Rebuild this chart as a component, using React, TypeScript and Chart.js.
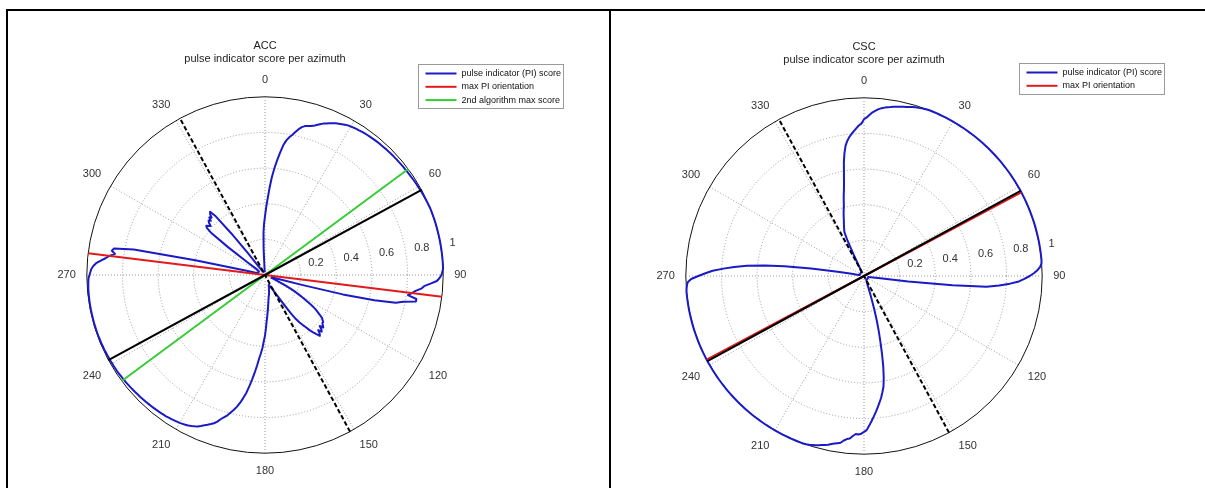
import React, { useEffect, useRef } from 'react';
import { Chart, registerables } from 'chart.js';

Chart.register(...registerables);

const FONT = '"Liberation Sans", Arial, Helvetica, sans-serif';

// ---- axes -------------------------------------------------------------
const AZIMUTH_STEP = 0.5; // resolution of the azimuth category grid (deg)
const AZIMUTH_TICKS = [0, 30, 60, 90, 120, 150, 180, 210, 240, 270, 300, 330];
const RADIAL_TICKS = [0.2, 0.4, 0.6, 0.8, 1];
const SUBTITLE = 'pulse indicator score per azimuth';
const SERIES_LABELS = ['pulse indicator (PI) score', 'max PI orientation', '2nd algorithm max score'];

// ---- ACC : PI score per azimuth (1 deg steps, 0..359) ------------------
const ACC_PI_SCORE = [
  0.33, 0.38, 0.43, 0.49, 0.55, 0.6, 0.645, 0.69, 0.735, 0.765, 0.785, 0.8, 0.82, 0.84, 0.855, 0.865, 0.87, 0.875, 0.88, 0.89, 0.9, 0.91, 0.917, 0.925, 0.932, 0.94, 0.945, 0.95, 0.955, 0.96,
  0.962, 0.965, 0.967, 0.968, 0.97, 0.972, 0.973, 0.974, 0.975, 0.976, 0.977, 0.978, 0.978, 0.979, 0.98, 0.98, 0.981, 0.982, 0.982, 0.983, 0.983, 0.984, 0.985, 0.985, 0.986, 0.987, 0.988, 0.989, 0.99, 0.991,
  0.992, 0.993, 0.994, 0.995, 0.996, 0.997, 0.998, 0.999, 1, 1, 1, 1, 1, 1, 1, 1, 1, 1, 1, 1, 1, 1, 1, 1, 1, 1, 1, 1, 1, 0.995,
  0.99, 0.98, 0.965, 0.93, 0.895, 0.88, 0.85, 0.83, 0.81, 0.86, 0.86, 0.79, 0.75, 0.63, 0.45, 0.22, 0.09, 0.05, 0.045, 0.04, 0.04, 0.04, 0.04, 0.04, 0.05, 0.07, 0.09, 0.12, 0.16, 0.19,
  0.22, 0.25, 0.28, 0.31, 0.34, 0.36, 0.38, 0.4, 0.41, 0.42, 0.42, 0.43, 0.44, 0.42, 0.44, 0.45, 0.43, 0.45, 0.46, 0.44, 0.42, 0.4, 0.37, 0.35, 0.33, 0.3, 0.26, 0.21, 0.17, 0.14,
  0.12, 0.11, 0.09, 0.085, 0.08, 0.075, 0.07, 0.065, 0.06, 0.06, 0.06, 0.065, 0.07, 0.075, 0.08, 0.085, 0.095, 0.1, 0.11, 0.115, 0.12, 0.13, 0.14, 0.155, 0.17, 0.19, 0.21, 0.235, 0.26, 0.3,
  0.34, 0.37, 0.41, 0.44, 0.47, 0.51, 0.55, 0.59, 0.63, 0.67, 0.7, 0.73, 0.755, 0.776, 0.795, 0.815, 0.83, 0.845, 0.865, 0.88, 0.89, 0.9, 0.91, 0.92, 0.93, 0.937, 0.943, 0.948, 0.952, 0.955,
  0.958, 0.96, 0.962, 0.964, 0.966, 0.968, 0.969, 0.97, 0.971, 0.972, 0.973, 0.974, 0.975, 0.976, 0.977, 0.978, 0.979, 0.98, 0.981, 0.982, 0.983, 0.984, 0.985, 0.986, 0.987, 0.988, 0.989, 0.99, 0.99, 0.991,
  0.991, 0.992, 0.992, 0.993, 0.993, 0.994, 0.994, 0.995, 0.995, 0.995, 0.996, 0.996, 0.996, 0.996, 0.996, 0.996, 0.996, 0.996, 0.996, 0.996, 0.996, 0.996, 0.996, 0.995, 0.995, 0.995, 0.994, 0.993, 0.992, 0.99,
  0.985, 0.98, 0.975, 0.965, 0.95, 0.925, 0.9, 0.88, 0.85, 0.87, 0.86, 0.75, 0.4, 0.12, 0.06, 0.05, 0.045, 0.04, 0.04, 0.04, 0.04, 0.04, 0.04, 0.04, 0.04, 0.04, 0.04, 0.04, 0.04, 0.04,
  0.04, 0.04, 0.04, 0.045, 0.05, 0.06, 0.12, 0.26, 0.38, 0.42, 0.43, 0.42, 0.41, 0.43, 0.44, 0.43, 0.45, 0.44, 0.46, 0.47, 0.43, 0.3, 0.15, 0.07, 0.04, 0.03, 0.03, 0.025, 0.025, 0.02,
  0.02, 0.02, 0.02, 0.02, 0.02, 0.02, 0.02, 0.02, 0.02, 0.02, 0.02, 0.02, 0.02, 0.02, 0.02, 0.02, 0.02, 0.02, 0.02, 0.02, 0.02, 0.02, 0.02, 0.02, 0.02, 0.02, 0.04, 0.15, 0.24, 0.29,
];
const ACC_MAX_PI_AZ = 277;
const ACC_SECOND_ALGO_AZ = 53.5;
const ACC_MAIN_AXIS_AZ = 61.5;
const ACC_CROSS_AXIS_AZ = 331.5;

// ---- CSC : PI score per azimuth (1 deg steps, 0..359) ------------------
const CSC_PI_SCORE = [
  0.88, 0.89, 0.905, 0.92, 0.93, 0.94, 0.947, 0.952, 0.956, 0.96, 0.965, 0.968, 0.971, 0.975, 0.978, 0.982, 0.986, 0.99, 0.992, 0.995, 0.997, 0.999, 1, 1, 1, 1, 1, 1, 1, 1,
  1, 1, 1, 1, 1, 1, 1, 1, 1, 1, 1, 1, 1, 1, 1, 1, 1, 1, 1, 1, 1, 1, 1, 1, 1, 1, 1, 1, 1, 1,
  1, 1, 1, 1, 1, 1, 1, 1, 1, 1, 1, 1, 1, 1, 1, 1, 1, 1, 1, 1, 1, 1, 1, 1, 1, 1, 0.998, 0.99, 0.975, 0.955,
  0.93, 0.9, 0.87, 0.82, 0.76, 0.69, 0.5, 0.25, 0.08, 0.05, 0.04, 0.035, 0.03, 0.025, 0.025, 0.025, 0.025, 0.025, 0.025, 0.025, 0.025, 0.025, 0.025, 0.025, 0.025, 0.025, 0.025, 0.025, 0.025, 0.025,
  0.025, 0.025, 0.025, 0.025, 0.025, 0.025, 0.025, 0.025, 0.025, 0.025, 0.025, 0.025, 0.025, 0.025, 0.025, 0.025, 0.025, 0.025, 0.025, 0.025, 0.025, 0.025, 0.025, 0.025, 0.025, 0.025, 0.025, 0.025, 0.025, 0.025,
  0.025, 0.025, 0.03, 0.03, 0.035, 0.035, 0.04, 0.045, 0.05, 0.06, 0.08, 0.11, 0.15, 0.2, 0.26, 0.32, 0.38, 0.45, 0.52, 0.58, 0.63, 0.66, 0.69, 0.715, 0.74, 0.765, 0.79, 0.815, 0.84, 0.865,
  0.875, 0.885, 0.89, 0.888, 0.9, 0.915, 0.92, 0.93, 0.945, 0.95, 0.955, 0.96, 0.968, 0.973, 0.978, 0.983, 0.988, 0.992, 0.996, 0.999, 1, 1, 1, 1, 1, 1, 1, 1, 1, 1,
  1, 1, 1, 1, 1, 1, 1, 1, 1, 1, 1, 1, 1, 1, 1, 1, 1, 1, 1, 1, 1, 1, 1, 1, 1, 1, 1, 1, 1, 1,
  1, 1, 1, 1, 1, 1, 1, 1, 1, 1, 1, 1, 1, 1, 1, 1, 1, 1, 1, 1, 1, 1, 1, 1, 1, 1, 0.998, 0.995, 0.99, 0.97,
  0.93, 0.89, 0.85, 0.79, 0.73, 0.66, 0.56, 0.45, 0.3, 0.15, 0.07, 0.04, 0.03, 0.025, 0.025, 0.025, 0.025, 0.025, 0.025, 0.025, 0.025, 0.025, 0.025, 0.025, 0.025, 0.025, 0.025, 0.025, 0.025, 0.025,
  0.025, 0.025, 0.025, 0.025, 0.025, 0.025, 0.025, 0.025, 0.025, 0.025, 0.025, 0.025, 0.025, 0.025, 0.025, 0.025, 0.025, 0.025, 0.025, 0.025, 0.025, 0.025, 0.025, 0.025, 0.025, 0.025, 0.025, 0.025, 0.025, 0.025,
  0.025, 0.03, 0.035, 0.05, 0.12, 0.22, 0.27, 0.285, 0.3, 0.315, 0.33, 0.35, 0.37, 0.39, 0.41, 0.44, 0.47, 0.5, 0.54, 0.59, 0.65, 0.7, 0.74, 0.765, 0.785, 0.8, 0.815, 0.83, 0.845, 0.855,
];
const CSC_MAX_PI_AZ = 62;
const CSC_MAIN_AXIS_AZ = 61.5;
const CSC_CROSS_AXIS_AZ = 331.5;

// ---- colours ----------------------------------------------------------
const BLUE = '#1a1ac6';
const RED = '#e31a1c';
const GREEN = '#35cc35';
const BLACK = '#000000';

// ---- tables built for the library ------------------------------------
const AZIMUTH_GRID = Array.from({ length: Math.round(360 / AZIMUTH_STEP) }, (_, i) => i * AZIMUTH_STEP);
const isMajor = (i: number) => AZIMUTH_TICKS.includes(AZIMUTH_GRID[i]);

function scoreOnGrid(score: number[]) {
  return AZIMUTH_GRID.map((a) => (Number.isInteger(a) ? score[a] : null));
}

// a diameter through the centre: value 1 at az, 0 (centre) in between, 1 at az+180
function diameter(az: number) {
  const a = ((az % 180) + 180) % 180;
  const start = Math.round(a / AZIMUTH_STEP);
  const half = Math.round(180 / AZIMUTH_STEP);
  const data: (number | null)[] = [];
  for (let k = 0; k < start; k++) data.push(null);
  data.push(1);
  for (let k = 1; k < half; k++) data.push(0);
  data.push(1);
  return data;
}

const polarDecor = {
  id: 'polarDecor',
  afterDraw(chart: any, _args: any, opts: any) {
    const scale = chart.scales.r;
    const ctx = chart.ctx;
    ctx.save();
    // radial tick labels, placed along the 82 deg direction
    ctx.font = `11px ${FONT}`;
    ctx.fillStyle = '#333333';
    ctx.textAlign = 'left';
    ctx.textBaseline = 'middle';
    const ang = (82 * Math.PI) / 180;
    for (const v of RADIAL_TICKS) {
      const d = scale.getDistanceFromCenterForValue(v);
      ctx.fillText(String(v), scale.xCenter + d * Math.sin(ang) + 8, scale.yCenter - d * Math.cos(ang) - 7);
    }
    // legend box
    const items: number[] = opts.items || [];
    const x0 = Math.round(scale.xCenter + opts.dx) + 0.5;
    const y0 = Math.round(opts.top) + 0.5;
    const rowH = 13.3;
    const w = 145;
    const h = Math.round(rowH * items.length + 4.5);
    ctx.fillStyle = '#ffffff';
    ctx.fillRect(x0, y0, w, h);
    ctx.strokeStyle = '#9a9a9a';
    ctx.lineWidth = 1;
    ctx.strokeRect(x0, y0, w, h);
    ctx.font = `9px ${FONT}`;
    items.forEach((dsIndex, k) => {
      const ds = chart.data.datasets[dsIndex];
      const y = y0 + 9 + k * rowH;
      ctx.strokeStyle = ds.borderColor;
      ctx.lineWidth = 2;
      ctx.setLineDash([]);
      ctx.beginPath();
      ctx.moveTo(x0 + 7, y);
      ctx.lineTo(x0 + 38, y);
      ctx.stroke();
      ctx.fillStyle = '#111111';
      ctx.fillText(ds.label, x0 + 43, y);
    });
    ctx.restore();
  },
};

function lineSet(label: string, data: (number | null)[], color: string, extra: any = {}) {
  return {
    label,
    data,
    borderColor: color,
    backgroundColor: color,
    borderWidth: 2,
    pointRadius: 0,
    pointHoverRadius: 0,
    pointHitRadius: 0,
    fill: false,
    tension: 0,
    spanGaps: false,
    borderJoinStyle: 'round',
    ...extra,
  };
}

type PanelProps = {
  name: string;
  datasets: any[];
  legendItems: number[];
  left: number;
  top: number;
  width: number;
  height: number;
  padRight: number;
  padBottom: number;
  legendDx: number;
  legendTop: number;
};

function PolarPanel(p: PanelProps) {
  const ref = useRef<HTMLCanvasElement>(null);
  useEffect(() => {
    const chart = new Chart(ref.current as HTMLCanvasElement, {
      type: 'radar',
      data: { labels: AZIMUTH_GRID, datasets: p.datasets },
      plugins: [polarDecor],
      options: {
        responsive: false,
        animation: false,
        events: [],
        layout: { padding: { left: 0, right: p.padRight, top: 0, bottom: p.padBottom } },
        plugins: {
          legend: { display: false },
          tooltip: { enabled: false },
          title: {
            display: true,
            text: [p.name, SUBTITLE],
            fullSize: false,
            color: '#222222',
            font: { family: FONT, size: 11, weight: 'normal', lineHeight: 1.2 },
            padding: { top: 21, bottom: 9 },
          },
          polarDecor: { items: p.legendItems, dx: p.legendDx, top: p.legendTop },
        } as any,
        scales: {
          r: {
            min: 0,
            max: 1,
            ticks: { stepSize: 0.2, display: false },
            grid: {
              circular: true,
              color: (c: any) => (c.index === RADIAL_TICKS.length ? '#111111' : '#9a9a9a'),
              lineWidth: 1,
            },
            border: { dash: (c: any) => (c.index === RADIAL_TICKS.length ? [] : [1, 2]) },
            angleLines: {
              display: true,
              color: (c: any) => (isMajor(c.index) ? '#9a9a9a' : 'rgba(0,0,0,0)'),
              lineWidth: (c: any) => (isMajor(c.index) ? 1 : 0),
              borderDash: [1, 2],
            },
            pointLabels: {
              display: true,
              padding: (c: any) => (isMajor(c.index) ? (c.index === 0 ? 10 : 11) : 0),
              color: '#333333',
              font: (c: any) => ({ family: FONT, size: isMajor(c.index) ? 11 : 1, lineHeight: 1.2 }),
              callback: (_label: any, i: number) => (isMajor(i) ? String(AZIMUTH_GRID[i]) : ''),
            },
          },
        } as any,
      } as any,
    });
    return () => chart.destroy();
  }, []);
  return (
    <canvas
      ref={ref}
      width={p.width}
      height={p.height}
      style={{ position: 'absolute', left: p.left, top: p.top, width: p.width, height: p.height }}
    />
  );
}

const accDatasets = [
  lineSet('', diameter(ACC_CROSS_AXIS_AZ), BLACK, { borderDash: [4.5, 2.5] }),
  lineSet('', diameter(ACC_MAIN_AXIS_AZ), BLACK),
  lineSet(SERIES_LABELS[2], diameter(ACC_SECOND_ALGO_AZ), GREEN),
  lineSet(SERIES_LABELS[1], diameter(ACC_MAX_PI_AZ), RED),
  lineSet(SERIES_LABELS[0], scoreOnGrid(ACC_PI_SCORE), BLUE, { spanGaps: true }),
];

const cscDatasets = [
  lineSet('', diameter(CSC_CROSS_AXIS_AZ), BLACK, { borderDash: [4.5, 2.5] }),
  lineSet('', diameter(CSC_MAIN_AXIS_AZ), BLACK),
  lineSet(SERIES_LABELS[1], diameter(CSC_MAX_PI_AZ), RED),
  lineSet(SERIES_LABELS[0], scoreOnGrid(CSC_PI_SCORE), BLUE, { spanGaps: true }),
];

export default function App() {
  useEffect(() => {
    document.body.style.margin = '0';
  }, []);
  const line = (s: any) => <div style={{ position: 'absolute', background: '#000', ...s }} />;
  return (
    <div style={{ position: 'fixed', left: 0, top: 0, width: 1205, height: 488, background: '#fff', overflow: 'hidden' }}>
      <PolarPanel
        name="ACC"
        datasets={accDatasets}
        legendItems={[4, 3, 2]}
        left={11}
        top={18}
        width={595}
        height={470}
        padRight={87}
        padBottom={9.6}
        legendDx={153}
        legendTop={46}
      />
      <PolarPanel
        name="CSC"
        datasets={cscDatasets}
        legendItems={[3, 2]}
        left={612}
        top={19}
        width={593}
        height={469}
        padRight={89}
        padBottom={8.6}
        legendDx={155}
        legendTop={44}
      />
      {line({ left: 6, top: 9, width: 1199, height: 2 })}
      {line({ left: 6, top: 9, width: 2, height: 479 })}
      {line({ left: 609, top: 9, width: 2, height: 479 })}
    </div>
  );
}
